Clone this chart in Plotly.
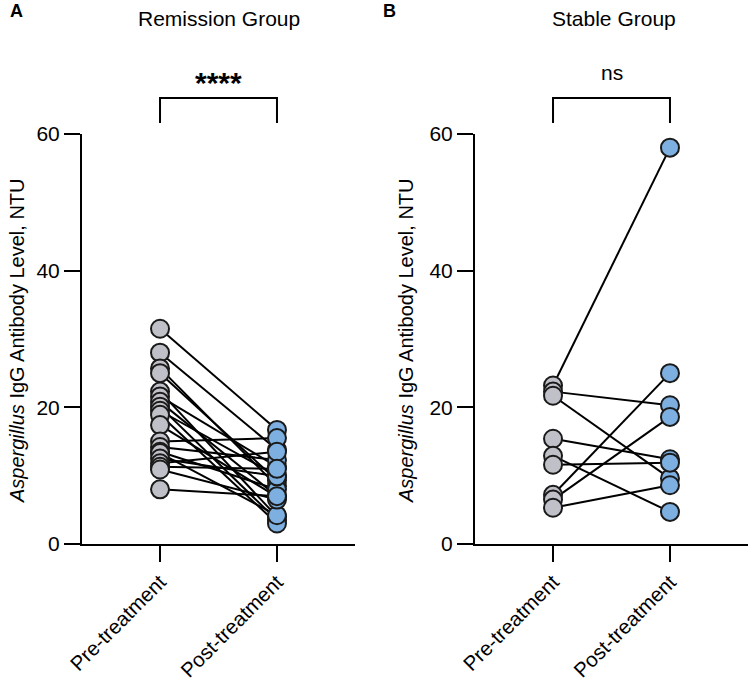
import plotly.graph_objects as go

# ---------------- data ----------------
categories = ["Pre-treatment", "Post-treatment"]

remission_pre = [31.5, 28.0, 25.7, 25.0, 22.3, 21.6, 20.8, 20.1, 19.5, 18.9,
                 17.4, 15.0, 14.2, 13.5, 13.3, 12.5, 11.8, 11.3, 10.9, 8.0]
remission_post = [16.7, 13.8, 8.5, 9.3, 4.0, 11.3, 7.0, 3.5, 10.0, 3.0,
                  6.9, 15.5, 12.3, 8.0, 4.2, 9.9, 13.5, 11.0, 6.5, 7.0]

stable_pre = [23.2, 22.3, 21.7, 15.4, 12.9, 11.6, 7.2, 6.5, 5.3]
stable_post = [58.0, 20.3, 9.6, 12.4, 4.7, 11.9, 25.0, 18.6, 8.6]

y_ticks = [0, 20, 40, 60]

# ---------------- styling ----------------
W, H = 750, 686
FONT = "Arial, Liberation Sans, sans-serif"
GREY = "#C0C0C8"
BLUE = "#7DB0E0"
EDGE = "#1A1A1A"

def px_x(p):
    return p / W

def px_y(p):
    return 1 - p / H

fig = go.Figure()

def add_panel(pre, post, xa, ya):
    xs, ys = [], []
    for a, b in zip(pre, post):
        xs += [0, 1, None]
        ys += [a, b, None]
    fig.add_trace(go.Scatter(x=xs, y=ys, mode="lines",
                             line=dict(color="black", width=2),
                             xaxis=xa, yaxis=ya, showlegend=False,
                             hoverinfo="skip", cliponaxis=False))
    fig.add_trace(go.Scatter(x=[0] * len(pre), y=pre, mode="markers",
                             marker=dict(size=18, color=GREY,
                                         line=dict(color=EDGE, width=2)),
                             xaxis=xa, yaxis=ya, showlegend=False,
                             cliponaxis=False))
    fig.add_trace(go.Scatter(x=[1] * len(post), y=post, mode="markers",
                             marker=dict(size=18, color=BLUE,
                                         line=dict(color=EDGE, width=2)),
                             xaxis=xa, yaxis=ya, showlegend=False,
                             cliponaxis=False))

add_panel(remission_pre, remission_post, "x", "y")
add_panel(stable_pre, stable_post, "x2", "y2")

xr = [-0.667, 1.667]
ydom = [px_y(544), px_y(134)]

xcommon = dict(range=xr, tickvals=[0, 1], ticktext=categories,
               tickangle=-45, ticks="outside", ticklen=16, tickwidth=2,
               tickcolor="black", showline=True, linecolor="black",
               linewidth=2, showgrid=False, zeroline=False, automargin=False,
               tickfont=dict(family=FONT, size=20.5, color="black"),
               fixedrange=True)
ycommon = dict(range=[0, 60], tickvals=y_ticks, ticks="outside", ticklen=16,
               tickwidth=2, tickcolor="black", showline=True,
               linecolor="black", linewidth=2, showgrid=False,
               zeroline=False, domain=ydom, automargin=False,
               tickfont=dict(family=FONT, size=21, color="black"),
               fixedrange=True)

fig.update_layout(
    template="none",
    width=W, height=H,
    margin=dict(l=0, r=0, t=0, b=0, pad=0),
    paper_bgcolor="white", plot_bgcolor="white",
    xaxis=dict(domain=[px_x(82), px_x(355)], anchor="y", **xcommon),
    yaxis=dict(anchor="x", **ycommon),
    xaxis2=dict(domain=[px_x(475), px_x(748)], anchor="y2", **xcommon),
    yaxis2=dict(anchor="x2", **ycommon),
)

ann = []
def text(x, y, s, size=18, angle=0, xref="paper"):
    ann.append(dict(x=x, y=y, xref=xref, yref="paper", text=s,
                    showarrow=False, textangle=angle,
                    font=dict(family=FONT, size=size, color="black"),
                    xanchor="center", yanchor="middle"))

# panel letters and titles
text(px_x(16), px_y(11), "<b>A</b>", size=18)
text(px_x(389), px_y(11), "<b>B</b>", size=18)
text(px_x(219), px_y(18), "Remission Group", size=21)
text(px_x(614), px_y(18), "Stable Group", size=21)

# significance labels
text(0.5, px_y(82), "<b>****</b>", size=30, xref="x")
text(0.5, px_y(72), "ns", size=21, xref="x2")

# y-axis titles
ylab = "<i>Aspergillus</i> IgG Antibody Level, NTU"
text(px_x(17), px_y(341), ylab, size=20, angle=-90)
text(px_x(406), px_y(341), ylab, size=20, angle=-90)

fig.update_layout(annotations=ann)

# brackets
for xref in ["x", "x2"]:
    fig.add_shape(type="path", xref=xref, yref="paper",
                  path=f"M 0 {px_y(123)} L 0 {px_y(98)} L 1 {px_y(98)} L 1 {px_y(123)}",
                  line=dict(color="black", width=2))

fig.write_html("out.html")
